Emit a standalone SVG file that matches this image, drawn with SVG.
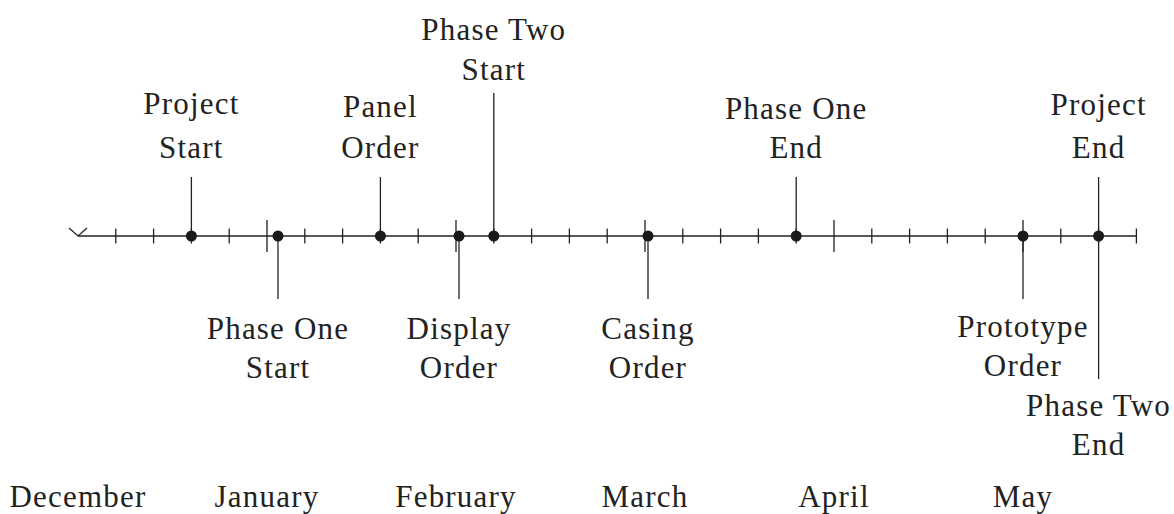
<svg xmlns="http://www.w3.org/2000/svg" width="1174" height="514" viewBox="0 0 1174 514">
<style>
text{font-family:"Liberation Serif","Times New Roman",serif;font-size:31px;letter-spacing:1.2px;fill:#222;text-anchor:middle}
.ax{stroke:#222;stroke-width:1.3;fill:none}
.st{stroke:#222;stroke-width:1.3}
.dot{fill:#1a1a1a}
</style>
<g id="axis" class="ax">
<polyline points="69,228 78,236 87,228"/>
<line x1="78" y1="236" x2="1136.4" y2="236"/>
<path d="M115.8,228.5v15M153.6,228.5v15M191.4,228.5v15M229.2,228.5v15M304.8,228.5v15M342.6,228.5v15M380.4,228.5v15M418.2,228.5v15M493.8,228.5v15M531.6,228.5v15M569.4,228.5v15M607.2,228.5v15M682.8,228.5v15M720.6,228.5v15M758.4,228.5v15M796.2,228.5v15M871.8,228.5v15M909.6,228.5v15M947.4,228.5v15M985.2,228.5v15M1060.8,228.5v15M1098.6,228.5v15M1136.4,228.5v15"/>
<path d="M267,220v32M456,220v32M645,220v32M834,220v32M1023,220v32"/>
</g>
<g id="connectors">
<line class="st" x1="191.4" y1="177" x2="191.4" y2="236"/>
<line class="st" x1="380.4" y1="177" x2="380.4" y2="236"/>
<line class="st" x1="493.8" y1="93" x2="493.8" y2="236"/>
<line class="st" x1="796.2" y1="177" x2="796.2" y2="236"/>
<line class="st" x1="1098.6" y1="177" x2="1098.6" y2="379"/>
<line class="st" x1="278" y1="236" x2="278" y2="299"/>
<line class="st" x1="459" y1="236" x2="459" y2="299"/>
<line class="st" x1="648" y1="236" x2="648" y2="299"/>
<line class="st" x1="1023" y1="236" x2="1023" y2="299"/>
</g>
<g id="project-start"><circle class="dot" cx="191.4" cy="236" r="5.5"/><text x="191.4" y="114">Project</text><text x="191.4" y="158">Start</text></g>
<g id="phase-one-start"><circle class="dot" cx="278" cy="236" r="5.5"/><text x="278" y="339">Phase One</text><text x="278" y="378">Start</text></g>
<g id="panel-order"><circle class="dot" cx="380.4" cy="236" r="5.5"/><text x="380.4" y="117">Panel</text><text x="380.4" y="158">Order</text></g>
<g id="display-order"><circle class="dot" cx="459" cy="236" r="5.5"/><text x="459" y="339">Display</text><text x="459" y="378">Order</text></g>
<g id="phase-two-start"><circle class="dot" cx="493.8" cy="236" r="5.5"/><text x="493.8" y="40">Phase Two</text><text x="493.8" y="80">Start</text></g>
<g id="casing-order"><circle class="dot" cx="648" cy="236" r="5.5"/><text x="648" y="339">Casing</text><text x="648" y="378">Order</text></g>
<g id="phase-one-end"><circle class="dot" cx="796.2" cy="236" r="5.5"/><text x="796.2" y="119">Phase One</text><text x="796.2" y="158">End</text></g>
<g id="prototype-order"><circle class="dot" cx="1023" cy="236" r="5.5"/><text x="1023" y="337">Prototype</text><text x="1023" y="376">Order</text></g>
<g id="project-end"><circle class="dot" cx="1098.6" cy="236" r="5.5"/><text x="1098.6" y="115">Project</text><text x="1098.6" y="158">End</text></g>
<g id="phase-two-end"><text x="1098.6" y="416">Phase Two</text><text x="1098.6" y="455">End</text></g>
<g id="months">
<text x="78" y="507">December</text>
<text x="267" y="507">January</text>
<text x="456" y="507">February</text>
<text x="645" y="507">March</text>
<text x="834" y="507">April</text>
<text x="1023" y="507">May</text>
</g>
</svg>
